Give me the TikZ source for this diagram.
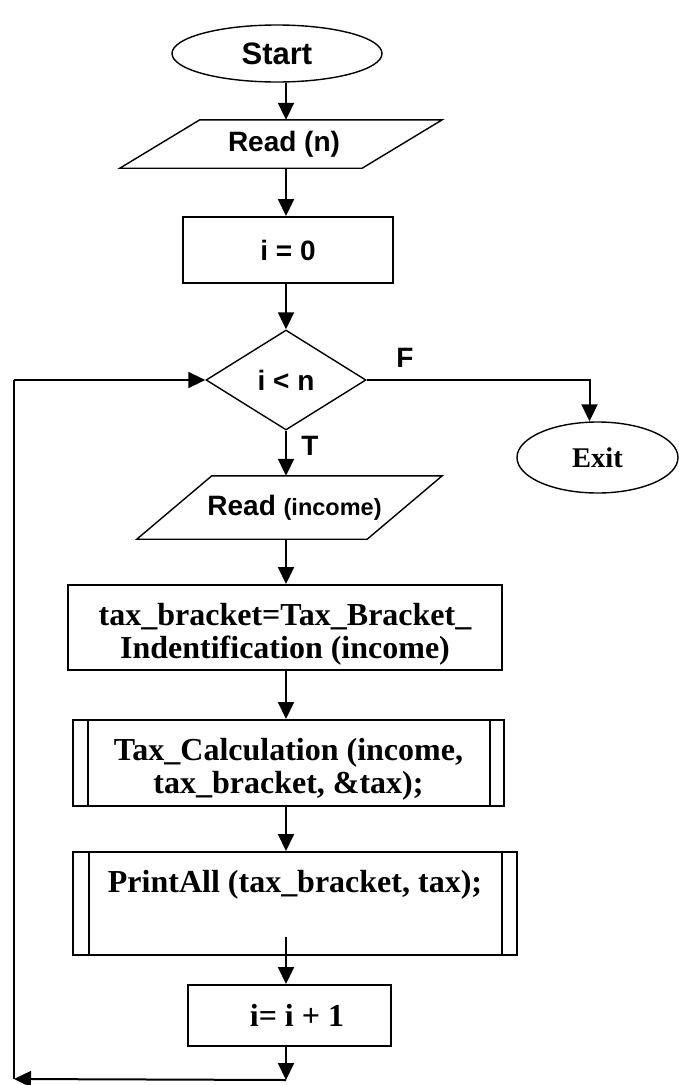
\documentclass[tikz,border=0pt]{standalone}
\usepackage{fontspec}
\setmainfont{Liberation Serif}
\newfontfamily\arialf{Liberation Sans}
\usetikzlibrary{shapes.geometric,arrows.meta,calc}
\begin{document}
\begin{tikzpicture}[x=1pt,y=-1pt,
  conn/.style={line width=2pt,-{Triangle[length=17pt,width=16pt]}},
  plainline/.style={line width=2pt},
  term/.style={ellipse,draw,line width=1.4pt,inner sep=0pt},
  procbox/.style={rectangle,draw,line width=2pt,inner sep=0pt},
  iobox/.style={rectangle,inner sep=0pt},
  ioline/.style={line width=1.4pt,line join=miter},
  decbox/.style={diamond,draw,line width=1.4pt,inner sep=0pt},
  sanstext/.style={font=\arialf\bfseries\fontsize{28}{30}\selectfont},
  seriftext/.style={font=\bfseries\fontsize{32}{33}\selectfont},
]
\useasboundingbox (0,0) rectangle (678,1085);

% nodes
\node[term,font=\arialf\bfseries\fontsize{31}{33}\selectfont,minimum width=210pt,minimum height=57pt] (start) at (277,53.5) {Start};

\node[iobox,sanstext,minimum width=322pt,minimum height=48pt] (rn) at (281,144) {\hspace{6pt}Read (n)};
\draw[ioline] ($(rn.north west)+(80,0)$) -- (rn.north east) -- ($(rn.south east)+(-80,0)$) -- (rn.south west) -- cycle;

\node[procbox,sanstext,minimum width=210pt,minimum height=66pt] (i0) at (288,250) {i = 0};

\node[decbox,sanstext,minimum width=160pt,minimum height=100pt] (dec) at (286,380) {i < n};
\coordinate (ax) at (dec.center);

\node[sanstext] (F) at (405,358) {F};
\node[sanstext] (T) at (310,446) {T};

\node[term,font=\bfseries\fontsize{28.5}{30}\selectfont,minimum width=161pt,minimum height=71pt] (exit) at (597.5,457.5) {Exit};

\node[iobox,minimum width=305pt,minimum height=63pt] (ri) at (289.5,507.5)
  {\hspace{10pt}{\arialf\bfseries\fontsize{28}{30}\selectfont Read }{\arialf\bfseries\fontsize{23.5}{26}\selectfont (income)}};
\draw[ioline] ($(ri.north west)+(75,0)$) -- (ri.north east) -- ($(ri.south east)+(-75,0)$) -- (ri.south west) -- cycle;

\node[procbox,seriftext,align=center,minimum width=434pt,minimum height=85pt] (tb) at (285,627.5)
  {\rule{0pt}{35pt}tax\_bracket=Tax\_Bracket\_\\Indentification (income)};

\node[procbox,seriftext,align=center,minimum width=431pt,minimum height=86pt] (tc) at (288.5,763)
  {\rule{0pt}{34pt}Tax\_Calculation (income,\\tax\_bracket, \&tax);};
\draw[plainline] ($(tc.north west)+(16,0)$) -- ($(tc.south west)+(16,0)$);
\draw[plainline] ($(tc.north east)+(-15,0)$) -- ($(tc.south east)+(-15,0)$);

\node[procbox,seriftext,minimum width=444pt,minimum height=103pt] (pa) at (295,903.5)
  {PrintAll (tax\_bracket, tax);\rule[-45pt]{0pt}{45pt}};
\draw[plainline] ($(pa.north west)+(17,0)$) -- ($(pa.south west)+(17,0)$);
\draw[plainline] ($(pa.north east)+(-16,0)$) -- ($(pa.south east)+(-16,0)$);

\node[procbox,seriftext,minimum width=203pt,minimum height=61pt] (inc) at (289.5,1015.5) {\hspace{15pt}i= i + 1};

% connectors
\draw[conn] (start.south -| ax) -- (rn.north -| ax);
\draw[conn] (rn.south -| ax) -- (i0.north -| ax);
\draw[conn] (i0.south -| ax) -- (dec.north);
\draw[conn] (dec.east) -| ([xshift=-8pt]exit.north);
\draw[conn] (dec.south) -- (ri.north -| ax);
\draw[conn] (ri.south -| ax) -- (tb.north -| ax);
\draw[conn] (tb.south -| ax) -- (tc.north -| ax);
\draw[conn] (tc.south -| ax) -- (pa.north -| ax);
\coordinate (pastub) at ($(pa.south -| ax)+(0,-19)$);
\draw[conn] (pastub) -- (inc.north -| ax);
\coordinate (lb) at ($(inc.south -| ax)+(0,33)$);
\coordinate (ll) at (14,1079);
\coordinate (lt) at (ll |- dec.west);
\draw[conn] (inc.south -| ax) -- (lb);
\draw[conn] (lb) -- (ll);
\draw[plainline] (ll) -- (lt);
\draw[conn] (lt) -- (dec.west);
\end{tikzpicture}
\end{document}
